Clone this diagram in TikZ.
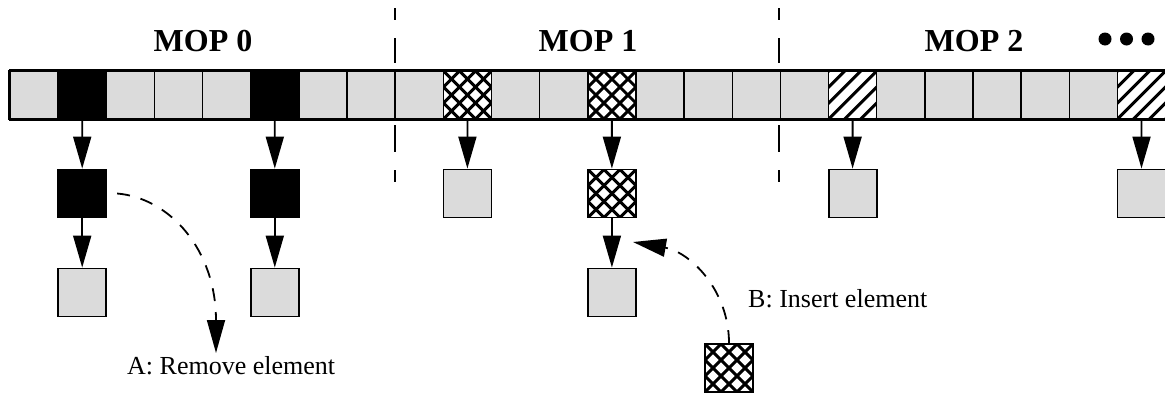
\documentclass[tikz,border=0pt]{standalone}
\usepackage{fontspec}
\setmainfont{Liberation Serif}
\usetikzlibrary{arrows.meta}
\begin{document}
\begin{tikzpicture}[x=1pt,y=-1pt,
  box/.style={draw,line width=1.8pt,minimum width=48pt,minimum height=48pt,inner sep=0pt},
  cellbox/.style={draw,line width=1.5pt,minimum width=48.15pt,minimum height=48pt,inner sep=0pt},
  tg/.style={fill=black!14},
  tb/.style={fill=black},
  tx/.style={fill=white,path picture={\foreach \k in {-4,...,4} {
      \draw[line width=3pt] ([xshift={\k*16pt-32pt},yshift=-32pt]path picture bounding box.center) -- ++(64pt,64pt);
      \draw[line width=3pt] ([xshift={\k*16pt-32pt},yshift=32pt]path picture bounding box.center) -- ++(64pt,-64pt);}}},
  th/.style={fill=white,path picture={\foreach \k in {-4,...,4}
      \draw[line width=3pt] ([xshift={\k*16pt-32pt},yshift=-32pt]path picture bounding box.center) -- ++(64pt,64pt);}},
  down/.style={-{Triangle[length=32pt,width=18pt]},line width=1.8pt},
  move/.style={-{Triangle[length=33pt,width=18pt]},line width=1.8pt,dash pattern=on 13pt off 11pt},
  sep/.style={line width=2pt,dash pattern=on 12pt off 18pt on 25pt off 62pt on 27pt off 18pt on 12pt},
  moplabel/.style={font=\fontsize{32}{38}\selectfont\bfseries,inner sep=0pt,anchor=base},
  note/.style={font=\fontsize{26}{30}\selectfont,inner sep=0pt,anchor=base west}]
\useasboundingbox (0,0) rectangle (1165,394);
% separators
\draw[sep] (395,8) -- (395,182);
\draw[sep] (779,8) -- (779,182);
% array cells
\foreach \i/\t in {0/tg,1/tb,2/tg,3/tg,4/tg,5/tb,6/tg,7/tg,
                   8/tg,9/tx,10/tg,11/tg,12/tx,13/tg,14/tg,15/tg,
                   16/tg,17/th,18/tg,19/tg,20/tg,21/tg,22/tg,23/th}
  \node[cellbox,\t] (c\i) at ({34.07+48.15*\i},95) {};
\draw[line width=2.6pt] (c0.north west) -- (c23.north east);
\draw[line width=2.6pt] (c0.south west) -- (c23.south east);
\draw[line width=2.6pt] (c0.north west) -- (c0.south west);
% labels
\node[moplabel] (mop0) at (203,51) {MOP 0};
\node[moplabel] (mop1) at (588,51) {MOP 1};
\node[moplabel] (mop2) at (974,51) {MOP 2};
\fill (1105,39) circle (6.5pt) (1126.5,39) circle (6.5pt) (1148,39) circle (6.5pt);
% lists
\node[box,tb] (s1a) at (82.2,193.5) {};
\node[box,tg] (s1b) at (82.2,292.5) {};
\node[box,tb] (s5a) at (274.8,193.5) {};
\node[box,tg] (s5b) at (274.8,292.5) {};
\node[box,tg] (s9a) at (467.4,193.5) {};
\node[box,tx] (s12a) at (611.9,193.5) {};
\node[box,tg] (s12b) at (611.9,292.5) {};
\node[box,tg] (s17a) at (852.6,193.5) {};
\node[box,tg] (s23a) at (1141.5,193.5) {};
\node[box,tx] (new) at (729,368) {};
\draw[down] (c1.south) -- (s1a.north);
\draw[down] (s1a.south) -- (s1b.north);
\draw[down] (c5.south) -- (s5a.north);
\draw[down] (s5a.south) -- (s5b.north);
\draw[down] (c9.south) -- (s9a.north);
\draw[down] (c12.south) -- (s12a.north);
\draw[down] (s12a.south) -- (s12b.north);
\draw[down] (c17.south) -- (s17a.north);
\draw[down] (c23.south) -- (s23a.north);
% operations
\node[note] (remA) at (127,374) {A: Remove element};
\node[note] (insB) at (748,307) {B: Insert element};
\coordinate (tipA) at (216,353);
\coordinate (tipB) at (633,242);
\draw[move] ([xshift=10pt]s1a.east) .. controls (170,198) and (216,250) .. (tipA);
\draw[move] (new.north) .. controls (729,290) and (690,252) .. (tipB);
\end{tikzpicture}
\end{document}
